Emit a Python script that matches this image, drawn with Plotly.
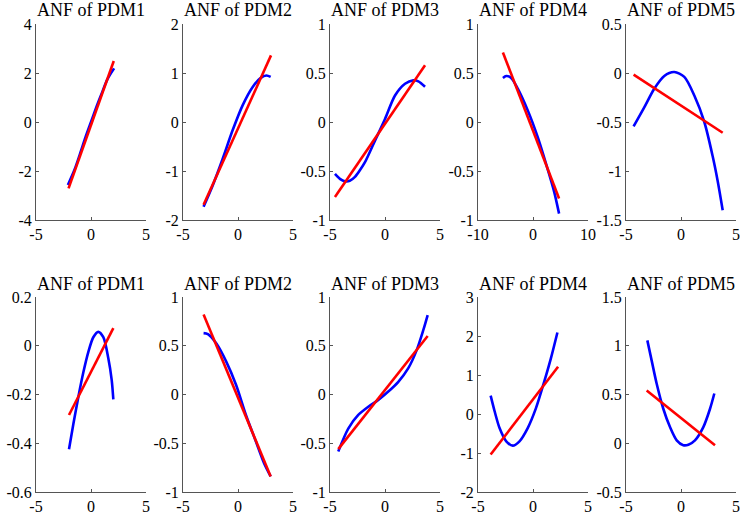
import plotly.graph_objs as go

# ---- data (blue = ANF, red = linear fit) ----
titles = ['ANF of PDM1', 'ANF of PDM2', 'ANF of PDM3', 'ANF of PDM4', 'ANF of PDM5']

# row 1
r1_blue_x = [
    [-2.1, -1.5, -1.0, -0.5, 0.0, 0.5, 1.0, 1.5, 2.1],
    [-3.13, -2.29, -1.39, -0.49, 0.42, 1.32, 2.07, 2.58, 2.97],
    [-4.55, -4.1, -3.64, -3.2, -2.73, -2.27, -1.82, -0.91, 0.0, 0.91, 1.82, 2.57, 3.03, 3.64],
    [-5.47, -4.87, -3.97, -2.77, -0.97, 0.83, 2.63, 3.84, 4.74],
    [-4.31, -3.34, -2.43, -1.52, -0.61, 0.3, 1.21, 2.12, 2.88, 3.33, 3.79],
]
r1_blue_y = [
    [-2.57, -1.95, -1.3, -0.62, 0.0, 0.62, 1.2, 1.75, 2.19],
    [-1.73, -1.29, -0.75, -0.17, 0.34, 0.71, 0.9, 0.95, 0.92],
    [-0.53, -0.58, -0.605, -0.6, -0.56, -0.49, -0.41, -0.19, 0.03, 0.27, 0.39, 0.425, 0.415, 0.36],
    [0.45, 0.47, 0.45, 0.34, 0.12, -0.15, -0.475, -0.71, -0.935],
    [-0.544, -0.35, -0.16, -0.03, 0.01, -0.04, -0.23, -0.5, -0.85, -1.1, -1.4],
]
r1_red_x = [[-2.04, 2.07], [-3.13, 3.0], [-4.55, 3.64], [-5.47, 4.74], [-4.31, 3.79]]
r1_red_y = [[-2.71, 2.49], [-1.69, 1.36], [-0.765, 0.58], [0.71, -0.78], [-0.017, -0.61]]

# row 2
r2_blue_x = [
    [-2.0, -1.6, -1.15, -0.7, -0.24, 0.21, 0.66, 1.12, 1.57, 1.88, 2.03],
    [-3.13, -2.74, -1.98, -1.08, -0.18, 0.72, 1.62, 2.37, 2.97],
    [-4.25, -3.34, -2.43, -1.52, -0.61, 0.3, 1.21, 2.12, 2.88, 3.48, 3.88],
    [-3.85, -3.49, -3.04, -2.43, -1.84, -1.23, -0.48, 0.27, 1.02, 1.62, 2.22],
    [-3.06, -2.67, -2.21, -1.61, -1.0, -0.39, 0.21, 0.67, 1.27, 2.03, 2.64, 3.03],
]
r2_blue_y = [
    [-0.425, -0.32, -0.21, -0.11, -0.025, 0.035, 0.057, 0.035, -0.05, -0.14, -0.22],
    [0.63, 0.62, 0.525, 0.34, 0.1, -0.21, -0.48, -0.705, -0.84],
    [-0.585, -0.35, -0.21, -0.125, -0.056, 0.03, 0.13, 0.27, 0.455, 0.66, 0.815],
    [0.47, 0.07, -0.36, -0.70, -0.81, -0.70, -0.36, 0.15, 0.83, 1.42, 2.09],
    [1.055, 0.85, 0.61, 0.354, 0.166, 0.03, -0.02, -0.015, 0.03, 0.166, 0.354, 0.51],
]
r2_red_x = [[-2.0, 2.03], [-3.13, 2.97], [-4.25, 3.88], [-3.85, 2.28], [-3.12, 3.09]]
r2_red_y = [[-0.284, 0.072], [0.82, -0.84], [-0.56, 0.60], [-1.04, 1.21], [0.54, -0.02]]

# axis ticks
r1_xticks = [[-5, 0, 5], [-5, 0, 5], [-5, 0, 5], [-10, 0, 10], [-5, 0, 5]]
r1_yticks = [[-4, -2, 0, 2, 4], [-2, -1, 0, 1, 2], [-1, -0.5, 0, 0.5, 1],
             [-1, -0.5, 0, 0.5, 1], [-1.5, -1, -0.5, 0, 0.5]]
r2_xticks = [[-5, 0, 5]] * 5
r2_yticks = [[-0.6, -0.4, -0.2, 0, 0.2], [-1, -0.5, 0, 0.5, 1], [-1, -0.5, 0, 0.5, 1],
             [-2, -1, 0, 1, 2, 3], [-0.5, 0, 0.5, 1, 1.5]]

W, H = 743, 517
lefts = [36, 183, 330, 478, 626]
pw = 110
rows_px = [(24, 220), (297, 492)]
title_px = [10, 284]

font = 'Liberation Serif'

fig = go.Figure()
layout = dict(width=W, height=H, margin=dict(l=0, r=0, t=0, b=0, autoexpand=False),
              paper_bgcolor='white', plot_bgcolor='white', showlegend=False,
              font=dict(family=font, size=16, color='black'))
annotations = []

rows = [
    (r1_blue_x, r1_blue_y, r1_red_x, r1_red_y, r1_xticks, r1_yticks),
    (r2_blue_x, r2_blue_y, r2_red_x, r2_red_y, r2_xticks, r2_yticks),
]

n = 0
for ri, (bx, by, rx, ry, xt, yt) in enumerate(rows):
    top, bot = rows_px[ri]
    for ci in range(5):
        n += 1
        sx = '' if n == 1 else str(n)
        fig.add_trace(go.Scatter(x=bx[ci], y=by[ci], mode='lines',
                                 line=dict(color='#0000ff', width=2.6, shape='spline', smoothing=0.8),
                                 xaxis='x' + sx, yaxis='y' + sx, hoverinfo='skip'))
        fig.add_trace(go.Scatter(x=rx[ci], y=ry[ci], mode='lines', line=dict(color='#ff0000', width=2.6),
                                 xaxis='x' + sx, yaxis='y' + sx, hoverinfo='skip'))
        l = lefts[ci]
        axcommon = dict(showline=True, linecolor='#555555', linewidth=1, ticks='inside', ticklen=3,
                        tickcolor='#555555', showgrid=False, zeroline=False, mirror=False,
                        automargin=False, tickfont=dict(family=font, size=16, color='black'))
        layout['xaxis' + sx] = dict(axcommon, domain=[l / W, (l + pw) / W], anchor='y' + sx,
                                    range=[xt[ci][0], xt[ci][-1]], tickvals=xt[ci],
                                    ticktext=['{:g}'.format(v) for v in xt[ci]])
        layout['yaxis' + sx] = dict(axcommon, domain=[1 - bot / H, 1 - top / H], anchor='x' + sx,
                                    range=[yt[ci][0], yt[ci][-1]], tickvals=yt[ci],
                                    ticktext=['{:g}'.format(v) for v in yt[ci]])
        annotations.append(dict(text=titles[ci], xref='paper', yref='paper',
                                x=(l + pw / 2) / W, y=1 - title_px[ri] / H,
                                xanchor='center', yanchor='middle', showarrow=False,
                                font=dict(family=font, size=18, color='black')))

layout['annotations'] = annotations
fig.update_layout(**layout)
# the page body has a default 8px margin; drop it so the figure sits at the corner
fig.write_html("out.html", config={'displayModeBar': False},
               post_script="document.body.style.margin='0';")
